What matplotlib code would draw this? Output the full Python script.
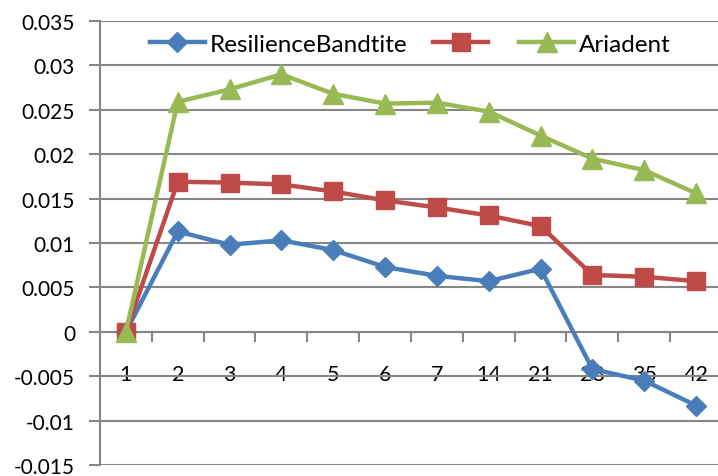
import matplotlib.pyplot as plt
import numpy as np

plt.rcParams['font.family'] = ['Lato', 'DejaVu Sans']

days = ['1', '2', '3', '4', '5', '6', '7', '14', '21', '28', '35', '42']
resilience = [0.0, 0.0113, 0.0098, 0.0103, 0.0092, 0.0073, 0.0063, 0.0057, 0.0071, -0.0042, -0.0055, -0.0083]
unnamed = [0.0, 0.0169, 0.0168, 0.0166, 0.0158, 0.0148, 0.0140, 0.0131, 0.0119, 0.0064, 0.0062, 0.0057]
ariadent = [0.0, 0.0259, 0.0273, 0.0290, 0.0268, 0.0257, 0.0258, 0.0248, 0.0221, 0.0195, 0.0182, 0.0156]
yticks = np.arange(-0.015, 0.0351, 0.005)

fig = plt.figure(figsize=(7.18, 4.77), dpi=100)
ax = fig.add_axes([100 / 718, 11 / 477, 622 / 718, 444 / 477])

x = np.arange(len(days))
grid = '#868686'
h1, = ax.plot(x, resilience, color='#4a7ebb', lw=3.2, marker='D', ms=10, zorder=3)
h2, = ax.plot(x, unnamed, color='#be4b48', lw=3.2, marker='s', ms=13, zorder=3)
h3, = ax.plot(x, ariadent, color='#98b954', lw=3.2, marker='^', ms=14, zorder=3)

ax.set_xlim(-0.5, len(days) - 0.5)
ax.set_ylim(-0.015, 0.035)
ax.set_yticks(yticks)
ax.set_yticklabels(['{:g}'.format(round(v, 3)) for v in yticks])
ax.yaxis.grid(True, color=grid, lw=1.5)
ax.set_axisbelow(True)

# category axis sits on zero, ticks between categories
ax.spines['bottom'].set_position(('data', 0))
for s in ['top', 'right']:
    ax.spines[s].set_visible(False)
for s in ['left', 'bottom']:
    ax.spines[s].set_color(grid)
    ax.spines[s].set_linewidth(1.5)
ax.set_xticks(x)
ax.set_xticklabels(days)
ax.set_xticks(np.arange(0.5, len(days) - 0.5), minor=True)
ax.tick_params(axis='x', which='major', length=0, pad=23, labelsize=15.5)
ax.tick_params(axis='x', which='minor', length=7, width=1.5, color=grid, direction='out')
ax.tick_params(axis='y', length=8, width=1.5, color=grid, pad=10, labelsize=15)

ax.legend([h1, h2, h3], ['ResilienceBandtite', '', 'Ariadent'], ncol=3, frameon=False,
          loc='center left', bbox_to_anchor=(150 / 718, 1 - 45 / 477),
          bbox_transform=fig.transFigure, fontsize=17.5, handlelength=2.26,
          handletextpad=0.2, columnspacing=1.07, borderpad=0, borderaxespad=0)

fig.savefig('out.png', dpi=100)
